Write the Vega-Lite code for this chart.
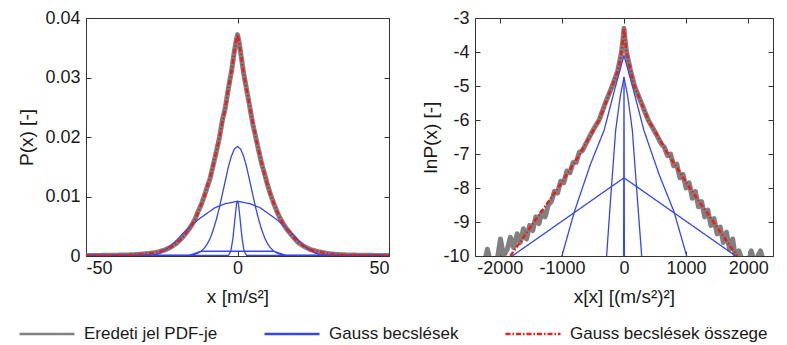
{
 "$schema": "https://vega.github.io/schema/vega-lite/v6.json",
 "padding": {"left": 17, "top": 8, "right": 0, "bottom": 0},
 "spacing": 31,
 "config": {
  "font": "Liberation Sans",
  "view": {"stroke": "#333", "strokeWidth": 1},
  "axis": {"grid": false, "domain": false, "labelFont": "Liberation Sans", "labelFontSize": 18, "labelColor": "#1a1a1a", "titleFont": "Liberation Sans", "titleFontSize": 19, "titleFontWeight": "normal", "titleColor": "#1a1a1a", "tickColor": "#333", "tickSize": -5, "labelExpr": "replace(datum.label, '−', '-')"},
  "axisX": {"labelPadding": 8, "titlePadding": 10},
  "axisY": {"labelPadding": 11},
  "legend": {"title": null, "orient": "none", "legendX": -68, "legendY": 287, "direction": "horizontal", "gridAlign": "none", "symbolType": "stroke", "symbolSize": 3025, "symbolStrokeWidth": 2.5, "labelFont": "Liberation Sans", "labelFontSize": 17, "labelColor": "#1a1a1a", "labelOffset": 8, "columnPadding": 45, "labelLimit": 400},
  "line": {"strokeCap": "butt", "strokeJoin": "round"}
 },
 "datasets": {
  "L": [
   {"s":"g","c":"g","x":-50,"y":0.00008},{"s":"g","c":"g","x":-46,"y":0.0001},{"s":"g","c":"g","x":-42,"y":0.00012},{"s":"g","c":"g","x":-38,"y":0.00016},{"s":"g","c":"g","x":-35,"y":0.0002},{"s":"g","c":"g","x":-32,"y":0.0003},{"s":"g","c":"g","x":-30,"y":0.0004},{"s":"g","c":"g","x":-28,"y":0.0005},{"s":"g","c":"g","x":-26,"y":0.0007},{"s":"g","c":"g","x":-24,"y":0.001},{"s":"g","c":"g","x":-22,"y":0.0015},{"s":"g","c":"g","x":-20,"y":0.0022},{"s":"g","c":"g","x":-18,"y":0.0032},{"s":"g","c":"g","x":-16,"y":0.0045},{"s":"g","c":"g","x":-15,"y":0.0053},{"s":"g","c":"g","x":-14,"y":0.0062},{"s":"g","c":"g","x":-13,"y":0.0075},{"s":"g","c":"g","x":-12,"y":0.0086},{"s":"g","c":"g","x":-11,"y":0.01},{"s":"g","c":"g","x":-10,"y":0.0116},{"s":"g","c":"g","x":-9,"y":0.0131},{"s":"g","c":"g","x":-8,"y":0.0153},{"s":"g","c":"g","x":-7,"y":0.0175},{"s":"g","c":"g","x":-6,"y":0.0198},{"s":"g","c":"g","x":-5,"y":0.0228},{"s":"g","c":"g","x":-4,"y":0.025},{"s":"g","c":"g","x":-3,"y":0.0282},{"s":"g","c":"g","x":-2,"y":0.031},{"s":"g","c":"g","x":-1,"y":0.0345},{"s":"g","c":"g","x":-0.5,"y":0.036},{"s":"g","c":"g","x":0,"y":0.0372},{"s":"g","c":"g","x":0.5,"y":0.036},{"s":"g","c":"g","x":1,"y":0.0343},{"s":"g","c":"g","x":2,"y":0.0308},{"s":"g","c":"g","x":3,"y":0.028},{"s":"g","c":"g","x":4,"y":0.0252},{"s":"g","c":"g","x":5,"y":0.0223},{"s":"g","c":"g","x":6,"y":0.02},{"s":"g","c":"g","x":7,"y":0.0177},{"s":"g","c":"g","x":8,"y":0.0155},{"s":"g","c":"g","x":9,"y":0.0137},{"s":"g","c":"g","x":10,"y":0.0118},{"s":"g","c":"g","x":11,"y":0.0102},{"s":"g","c":"g","x":12,"y":0.0088},{"s":"g","c":"g","x":13,"y":0.0075},{"s":"g","c":"g","x":14,"y":0.0064},{"s":"g","c":"g","x":15,"y":0.0055},{"s":"g","c":"g","x":16,"y":0.0047},{"s":"g","c":"g","x":18,"y":0.0034},{"s":"g","c":"g","x":20,"y":0.0023},{"s":"g","c":"g","x":22,"y":0.0016},{"s":"g","c":"g","x":24,"y":0.0011},{"s":"g","c":"g","x":26,"y":0.0008},{"s":"g","c":"g","x":28,"y":0.0006},{"s":"g","c":"g","x":30,"y":0.0004},{"s":"g","c":"g","x":32,"y":0.0003},{"s":"g","c":"g","x":35,"y":0.0002},{"s":"g","c":"g","x":38,"y":0.00016},{"s":"g","c":"g","x":42,"y":0.00012},{"s":"g","c":"g","x":46,"y":0.0001},{"s":"g","c":"g","x":50,"y":0.00008},

   {"s":"b","c":"b1","x":-50,"y":0.0001},{"s":"b","c":"b1","x":-3,"y":0.0001},{"s":"b","c":"b1","x":-2.2,"y":0.0008},{"s":"b","c":"b1","x":-1.5,"y":0.003},{"s":"b","c":"b1","x":-0.8,"y":0.0065},{"s":"b","c":"b1","x":-0.3,"y":0.0088},{"s":"b","c":"b1","x":0,"y":0.0092},{"s":"b","c":"b1","x":0.3,"y":0.0088},{"s":"b","c":"b1","x":0.8,"y":0.0065},{"s":"b","c":"b1","x":1.5,"y":0.003},{"s":"b","c":"b1","x":2.2,"y":0.0008},{"s":"b","c":"b1","x":3,"y":0.0001},{"s":"b","c":"b1","x":50,"y":0.0001},

   {"s":"b","c":"b2","x":-50,"y":0.0001},{"s":"b","c":"b2","x":-16,"y":0.0001},{"s":"b","c":"b2","x":-14,"y":0.0003},{"s":"b","c":"b2","x":-13,"y":0.0005},{"s":"b","c":"b2","x":-12,"y":0.0008},{"s":"b","c":"b2","x":-11,"y":0.0013},{"s":"b","c":"b2","x":-10,"y":0.002},{"s":"b","c":"b2","x":-9,"y":0.003},{"s":"b","c":"b2","x":-8,"y":0.0044},{"s":"b","c":"b2","x":-7,"y":0.0061},{"s":"b","c":"b2","x":-6,"y":0.0081},{"s":"b","c":"b2","x":-5,"y":0.0104},{"s":"b","c":"b2","x":-4,"y":0.0127},{"s":"b","c":"b2","x":-3,"y":0.015},{"s":"b","c":"b2","x":-2,"y":0.0168},{"s":"b","c":"b2","x":-1,"y":0.018},{"s":"b","c":"b2","x":0,"y":0.0184},{"s":"b","c":"b2","x":1,"y":0.018},{"s":"b","c":"b2","x":2,"y":0.0168},{"s":"b","c":"b2","x":3,"y":0.015},{"s":"b","c":"b2","x":4,"y":0.0127},{"s":"b","c":"b2","x":5,"y":0.0104},{"s":"b","c":"b2","x":6,"y":0.0081},{"s":"b","c":"b2","x":7,"y":0.0061},{"s":"b","c":"b2","x":8,"y":0.0044},{"s":"b","c":"b2","x":9,"y":0.003},{"s":"b","c":"b2","x":10,"y":0.002},{"s":"b","c":"b2","x":11,"y":0.0013},{"s":"b","c":"b2","x":12,"y":0.0008},{"s":"b","c":"b2","x":13,"y":0.0005},{"s":"b","c":"b2","x":14,"y":0.0003},{"s":"b","c":"b2","x":16,"y":0.0001},{"s":"b","c":"b2","x":50,"y":0.0001},

   {"s":"b","c":"b3","x":-50,"y":0.0001},{"s":"b","c":"b3","x":-30,"y":0.0001},{"s":"b","c":"b3","x":-27,"y":0.0002},{"s":"b","c":"b3","x":-24.5,"y":0.0008},{"s":"b","c":"b3","x":-22,"y":0.0017},{"s":"b","c":"b3","x":-20,"y":0.0027},{"s":"b","c":"b3","x":-18,"y":0.0038},{"s":"b","c":"b3","x":-15.5,"y":0.005},{"s":"b","c":"b3","x":-13,"y":0.0061},{"s":"b","c":"b3","x":-10,"y":0.0072},{"s":"b","c":"b3","x":-7.5,"y":0.0081},{"s":"b","c":"b3","x":-4,"y":0.0088},{"s":"b","c":"b3","x":0,"y":0.0092},{"s":"b","c":"b3","x":4,"y":0.0088},{"s":"b","c":"b3","x":7.5,"y":0.0081},{"s":"b","c":"b3","x":10,"y":0.0072},{"s":"b","c":"b3","x":13,"y":0.0061},{"s":"b","c":"b3","x":15.5,"y":0.005},{"s":"b","c":"b3","x":18,"y":0.0038},{"s":"b","c":"b3","x":20,"y":0.0027},{"s":"b","c":"b3","x":22,"y":0.0017},{"s":"b","c":"b3","x":24.5,"y":0.0008},{"s":"b","c":"b3","x":27,"y":0.0002},{"s":"b","c":"b3","x":30,"y":0.0001},{"s":"b","c":"b3","x":50,"y":0.0001},

   {"s":"b","c":"b4","x":-50,"y":0.0001},{"s":"b","c":"b4","x":-16,"y":0.0001},{"s":"b","c":"b4","x":-12,"y":0.0008},{"s":"b","c":"b4","x":12,"y":0.0008},{"s":"b","c":"b4","x":16,"y":0.0001},{"s":"b","c":"b4","x":50,"y":0.0001},

   {"s":"r","c":"r","x":-50,"y":0.00008},{"s":"r","c":"r","x":-46,"y":0.0001},{"s":"r","c":"r","x":-42,"y":0.00012},{"s":"r","c":"r","x":-38,"y":0.00016},{"s":"r","c":"r","x":-35,"y":0.0002},{"s":"r","c":"r","x":-32,"y":0.0003},{"s":"r","c":"r","x":-30,"y":0.0004},{"s":"r","c":"r","x":-28,"y":0.0005},{"s":"r","c":"r","x":-26,"y":0.0007},{"s":"r","c":"r","x":-24,"y":0.001},{"s":"r","c":"r","x":-22,"y":0.0015},{"s":"r","c":"r","x":-20,"y":0.0022},{"s":"r","c":"r","x":-18,"y":0.0032},{"s":"r","c":"r","x":-16,"y":0.0045},{"s":"r","c":"r","x":-15,"y":0.0053},{"s":"r","c":"r","x":-14,"y":0.0062},{"s":"r","c":"r","x":-13,"y":0.0073},{"s":"r","c":"r","x":-12,"y":0.0086},{"s":"r","c":"r","x":-11,"y":0.01},{"s":"r","c":"r","x":-10,"y":0.0116},{"s":"r","c":"r","x":-9,"y":0.0133},{"s":"r","c":"r","x":-8,"y":0.0153},{"s":"r","c":"r","x":-7,"y":0.0175},{"s":"r","c":"r","x":-6,"y":0.0198},{"s":"r","c":"r","x":-5,"y":0.0225},{"s":"r","c":"r","x":-4,"y":0.025},{"s":"r","c":"r","x":-3,"y":0.0282},{"s":"r","c":"r","x":-2,"y":0.031},{"s":"r","c":"r","x":-1,"y":0.0345},{"s":"r","c":"r","x":-0.5,"y":0.036},{"s":"r","c":"r","x":0,"y":0.0372},{"s":"r","c":"r","x":0.5,"y":0.036},{"s":"r","c":"r","x":1,"y":0.0343},{"s":"r","c":"r","x":2,"y":0.0308},{"s":"r","c":"r","x":3,"y":0.028},{"s":"r","c":"r","x":4,"y":0.0252},{"s":"r","c":"r","x":5,"y":0.0226},{"s":"r","c":"r","x":6,"y":0.02},{"s":"r","c":"r","x":7,"y":0.0177},{"s":"r","c":"r","x":8,"y":0.0155},{"s":"r","c":"r","x":9,"y":0.0135},{"s":"r","c":"r","x":10,"y":0.0118},{"s":"r","c":"r","x":11,"y":0.0102},{"s":"r","c":"r","x":12,"y":0.0088},{"s":"r","c":"r","x":13,"y":0.0075},{"s":"r","c":"r","x":14,"y":0.0064},{"s":"r","c":"r","x":15,"y":0.0055},{"s":"r","c":"r","x":16,"y":0.0047},{"s":"r","c":"r","x":18,"y":0.0034},{"s":"r","c":"r","x":20,"y":0.0023},{"s":"r","c":"r","x":22,"y":0.0016},{"s":"r","c":"r","x":24,"y":0.0011},{"s":"r","c":"r","x":26,"y":0.0008},{"s":"r","c":"r","x":28,"y":0.0006},{"s":"r","c":"r","x":30,"y":0.0004},{"s":"r","c":"r","x":32,"y":0.0003},{"s":"r","c":"r","x":35,"y":0.0002},{"s":"r","c":"r","x":38,"y":0.00016},{"s":"r","c":"r","x":42,"y":0.00012},{"s":"r","c":"r","x":46,"y":0.0001},{"s":"r","c":"r","x":50,"y":0.00008}
  ],
  "R": [
   {"s":"g","c":"g","x":-2250,"y":-10.2},{"s":"g","c":"g","x":-2200,"y":-9.8},{"s":"g","c":"g","x":-2150,"y":-10.2},{"s":"g","c":"g","x":-2050,"y":-10.2},{"s":"g","c":"g","x":-1990,"y":-9.5},{"s":"g","c":"g","x":-1940,"y":-10.0},{"s":"g","c":"g","x":-1880,"y":-9.8},{"s":"g","c":"g","x":-1830,"y":-9.45},{"s":"g","c":"g","x":-1780,"y":-9.75},{"s":"g","c":"g","x":-1720,"y":-9.35},{"s":"g","c":"g","x":-1670,"y":-9.6},{"s":"g","c":"g","x":-1620,"y":-9.2},{"s":"g","c":"g","x":-1570,"y":-9.5},{"s":"g","c":"g","x":-1520,"y":-9.1},{"s":"g","c":"g","x":-1470,"y":-9.25},{"s":"g","c":"g","x":-1420,"y":-8.85},{"s":"g","c":"g","x":-1370,"y":-9.05},{"s":"g","c":"g","x":-1320,"y":-8.7},{"s":"g","c":"g","x":-1270,"y":-8.85},{"s":"g","c":"g","x":-1220,"y":-8.5},{"s":"g","c":"g","x":-1170,"y":-8.4},{"s":"g","c":"g","x":-1120,"y":-8.1},{"s":"g","c":"g","x":-1070,"y":-8.15},{"s":"g","c":"g","x":-1020,"y":-7.8},{"s":"g","c":"g","x":-970,"y":-7.85},{"s":"g","c":"g","x":-920,"y":-7.5},{"s":"g","c":"g","x":-870,"y":-7.55},{"s":"g","c":"g","x":-820,"y":-7.25},{"s":"g","c":"g","x":-770,"y":-7.25},{"s":"g","c":"g","x":-720,"y":-6.95},{"s":"g","c":"g","x":-670,"y":-6.9},{"s":"g","c":"g","x":-600,"y":-6.65},{"s":"g","c":"g","x":-500,"y":-6.3},{"s":"g","c":"g","x":-400,"y":-6.0},{"s":"g","c":"g","x":-300,"y":-5.5},{"s":"g","c":"g","x":-190,"y":-5.0},{"s":"g","c":"g","x":-100,"y":-4.55},{"s":"g","c":"g","x":-40,"y":-4.0},{"s":"g","c":"g","x":-15,"y":-3.6},{"s":"g","c":"g","x":0,"y":-3.3},{"s":"g","c":"g","x":15,"y":-3.6},{"s":"g","c":"g","x":40,"y":-4.0},{"s":"g","c":"g","x":100,"y":-4.5},{"s":"g","c":"g","x":170,"y":-5.0},{"s":"g","c":"g","x":280,"y":-5.5},{"s":"g","c":"g","x":390,"y":-6.0},{"s":"g","c":"g","x":500,"y":-6.35},{"s":"g","c":"g","x":600,"y":-6.7},{"s":"g","c":"g","x":650,"y":-6.8},{"s":"g","c":"g","x":700,"y":-7.05},{"s":"g","c":"g","x":750,"y":-7.0},{"s":"g","c":"g","x":800,"y":-7.35},{"s":"g","c":"g","x":850,"y":-7.3},{"s":"g","c":"g","x":900,"y":-7.7},{"s":"g","c":"g","x":950,"y":-7.6},{"s":"g","c":"g","x":1000,"y":-8.0},{"s":"g","c":"g","x":1050,"y":-7.85},{"s":"g","c":"g","x":1100,"y":-8.3},{"s":"g","c":"g","x":1150,"y":-8.1},{"s":"g","c":"g","x":1200,"y":-8.55},{"s":"g","c":"g","x":1250,"y":-8.4},{"s":"g","c":"g","x":1300,"y":-8.85},{"s":"g","c":"g","x":1350,"y":-8.65},{"s":"g","c":"g","x":1400,"y":-9.1},{"s":"g","c":"g","x":1450,"y":-8.9},{"s":"g","c":"g","x":1500,"y":-9.35},{"s":"g","c":"g","x":1550,"y":-9.15},{"s":"g","c":"g","x":1600,"y":-9.6},{"s":"g","c":"g","x":1650,"y":-9.3},{"s":"g","c":"g","x":1700,"y":-9.8},{"s":"g","c":"g","x":1750,"y":-9.5},{"s":"g","c":"g","x":1800,"y":-10.1},{"s":"g","c":"g","x":1850,"y":-9.85},{"s":"g","c":"g","x":1900,"y":-10.1},{"s":"g","c":"g","x":2000,"y":-10.2},{"s":"g","c":"g","x":2050,"y":-9.85},{"s":"g","c":"g","x":2100,"y":-10.2},{"s":"g","c":"g","x":2200,"y":-9.85},{"s":"g","c":"g","x":2250,"y":-10.2},

   {"s":"b","c":"t","x":-1800,"y":-10},{"s":"b","c":"t","x":0,"y":-7.7},{"s":"b","c":"t","x":1800,"y":-10},
   {"s":"b","c":"b2","x":-1000,"y":-10},{"s":"b","c":"b2","x":-800,"y":-8.7},{"s":"b","c":"b2","x":-540,"y":-7.3},{"s":"b","c":"b2","x":-320,"y":-6.3},{"s":"b","c":"b2","x":-150,"y":-5.1},{"s":"b","c":"b2","x":0,"y":-4.1},{"s":"b","c":"b2","x":150,"y":-5.1},{"s":"b","c":"b2","x":320,"y":-6.3},{"s":"b","c":"b2","x":565,"y":-7.6},{"s":"b","c":"b2","x":806,"y":-8.7},{"s":"b","c":"b2","x":1010,"y":-10},
   {"s":"b","c":"b3","x":-280,"y":-10},{"s":"b","c":"b3","x":-215,"y":-8.3},{"s":"b","c":"b3","x":-134,"y":-6.3},{"s":"b","c":"b3","x":-60,"y":-5.3},{"s":"b","c":"b3","x":0,"y":-4.75},{"s":"b","c":"b3","x":60,"y":-5.3},{"s":"b","c":"b3","x":134,"y":-6.3},{"s":"b","c":"b3","x":215,"y":-8.3},{"s":"b","c":"b3","x":285,"y":-10},
   {"s":"b","c":"b1","x":-6,"y":-10},{"s":"b","c":"b1","x":0,"y":-4.75},{"s":"b","c":"b1","x":6,"y":-10},

   {"s":"r","c":"r","x":-1830,"y":-10},{"s":"r","c":"r","x":-1450,"y":-9},{"s":"r","c":"r","x":-1060,"y":-8},{"s":"r","c":"r","x":-710,"y":-7},{"s":"r","c":"r","x":-400,"y":-6},{"s":"r","c":"r","x":-190,"y":-5},{"s":"r","c":"r","x":-100,"y":-4.55},{"s":"r","c":"r","x":-40,"y":-4},{"s":"r","c":"r","x":-15,"y":-3.6},{"s":"r","c":"r","x":0,"y":-3.3},{"s":"r","c":"r","x":15,"y":-3.6},{"s":"r","c":"r","x":40,"y":-4},{"s":"r","c":"r","x":100,"y":-4.5},{"s":"r","c":"r","x":170,"y":-5},{"s":"r","c":"r","x":390,"y":-6},{"s":"r","c":"r","x":710,"y":-7},{"s":"r","c":"r","x":1060,"y":-8},{"s":"r","c":"r","x":1440,"y":-9},{"s":"r","c":"r","x":1820,"y":-10}
  ]
 },
 "hconcat": [
  {
   "width": 303, "height": 238,
   "data": {"name": "L"},
   "resolve": {"axis": {"x": "independent", "y": "independent"}},
   "encoding": {
    "color": {"field": "s", "type": "nominal", "scale": {"domain": ["g", "b", "r"], "range": ["#808080", "#3446ee", "#ee1c1c"]},
     "legend": {"labelExpr": "datum.value == 'g' ? 'Eredeti jel PDF-je' : datum.value == 'b' ? 'Gauss becslések' : 'Gauss becslések összege'",
      "encode": {"symbols": {"strokeWidth": {"condition": [{"test": "datum.value == 'g'", "value": 5}, {"test": "datum.value == 'b'", "value": 1.3}], "value": 2.5}}}}},
    "strokeDash": {"field": "s", "type": "nominal", "scale": {"domain": ["g", "b", "r"], "range": [[1, 0], [1, 0], [5, 2, 1.5, 2]]},
     "legend": {"labelExpr": "datum.value == 'g' ? 'Eredeti jel PDF-je' : datum.value == 'b' ? 'Gauss becslések' : 'Gauss becslések összege'",
      "encode": {"symbols": {"strokeWidth": {"condition": [{"test": "datum.value == 'g'", "value": 5}, {"test": "datum.value == 'b'", "value": 1.3}], "value": 2.5}}}}},
    "detail": {"field": "c"}
   },
   "layer": [
    {
     "transform": [{"filter": "datum.s == 'g'"}],
     "mark": {"type": "line", "clip": true, "strokeWidth": 5},
     "encoding": {
      "x": {"field": "x", "type": "quantitative", "scale": {"domain": [-50, 50], "nice": false, "zero": false}, "axis": {"values": [-50, 0, 50], "format": "d", "title": "x [m/s²]"}},
      "y": {"field": "y", "type": "quantitative", "scale": {"domain": [0, 0.04], "nice": false}, "axis": {"values": [0, 0.01, 0.02, 0.03, 0.04], "format": ".2~f", "title": "P(x) [-]", "titlePadding": 8}}
     }
    },
    {
     "transform": [{"filter": "datum.s == 'b'"}],
     "mark": {"type": "line", "clip": true, "strokeWidth": 1.3},
     "encoding": {
      "x": {"field": "x", "type": "quantitative", "axis": null},
      "y": {"field": "y", "type": "quantitative", "axis": null}
     }
    },
    {
     "transform": [{"filter": "datum.s == 'r'"}],
     "mark": {"type": "line", "clip": true, "strokeWidth": 2.5},
     "encoding": {
      "x": {"field": "x", "type": "quantitative", "axis": {"orient": "top", "labels": false, "title": null, "values": [-50, 0, 50]}},
      "y": {"field": "y", "type": "quantitative", "axis": {"orient": "right", "labels": false, "title": null, "values": [0, 0.01, 0.02, 0.03, 0.04]}}
     }
    }
   ]
  },
  {
   "width": 298, "height": 238,
   "data": {"name": "R"},
   "resolve": {"axis": {"x": "independent", "y": "independent"}},
   "encoding": {
    "color": {"field": "s", "type": "nominal",
     "legend": {"labelExpr": "datum.value == 'g' ? 'Eredeti jel PDF-je' : datum.value == 'b' ? 'Gauss becslések' : 'Gauss becslések összege'",
      "encode": {"symbols": {"strokeWidth": {"condition": [{"test": "datum.value == 'g'", "value": 5}, {"test": "datum.value == 'b'", "value": 1.3}], "value": 2.5}}}}},
    "strokeDash": {"field": "s", "type": "nominal",
     "legend": {"labelExpr": "datum.value == 'g' ? 'Eredeti jel PDF-je' : datum.value == 'b' ? 'Gauss becslések' : 'Gauss becslések összege'",
      "encode": {"symbols": {"strokeWidth": {"condition": [{"test": "datum.value == 'g'", "value": 5}, {"test": "datum.value == 'b'", "value": 1.3}], "value": 2.5}}}}},
    "detail": {"field": "c"}
   },
   "layer": [
    {
     "transform": [{"filter": "datum.s == 'g'"}],
     "mark": {"type": "line", "clip": true, "strokeWidth": 5},
     "encoding": {
      "x": {"field": "x", "type": "quantitative", "scale": {"domain": [-2400, 2400], "nice": false, "zero": false}, "axis": {"values": [-2000, -1000, 0, 1000, 2000], "format": "d", "title": "x[x] [(m/s²)²]"}},
      "y": {"field": "y", "type": "quantitative", "scale": {"domain": [-10, -3], "nice": false, "zero": false}, "axis": {"values": [-10, -9, -8, -7, -6, -5, -4, -3], "format": "d", "title": "lnP(x) [-]", "titlePadding": 2}}
     }
    },
    {
     "transform": [{"filter": "datum.s == 'b'"}],
     "mark": {"type": "line", "clip": true, "strokeWidth": 1.3},
     "encoding": {
      "x": {"field": "x", "type": "quantitative", "axis": null},
      "y": {"field": "y", "type": "quantitative", "axis": null}
     }
    },
    {
     "transform": [{"filter": "datum.s == 'r'"}],
     "mark": {"type": "line", "clip": true, "strokeWidth": 2.5},
     "encoding": {
      "x": {"field": "x", "type": "quantitative", "axis": {"orient": "top", "labels": false, "title": null, "values": [-2000, -1000, 0, 1000, 2000]}},
      "y": {"field": "y", "type": "quantitative", "axis": {"orient": "right", "labels": false, "title": null, "values": [-10, -9, -8, -7, -6, -5, -4, -3]}}
     }
    }
   ]
  }
 ]
}
